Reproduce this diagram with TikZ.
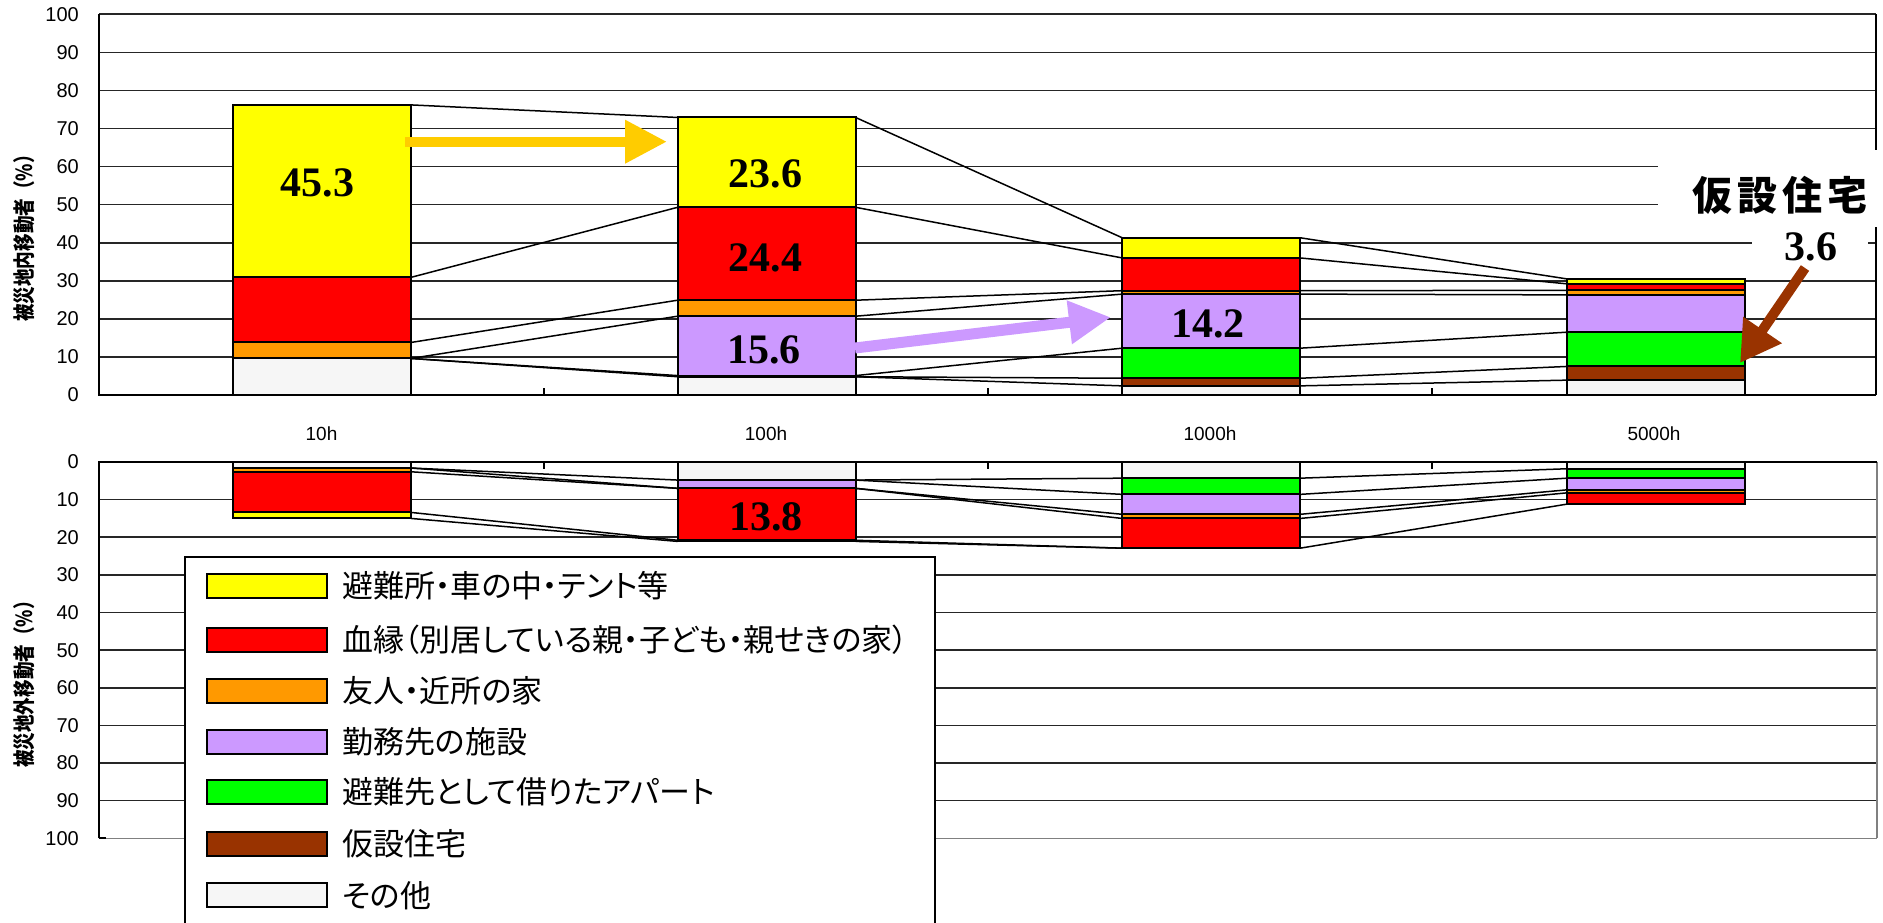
\documentclass[tikz,border=0pt]{standalone}
\usepackage{fontspec}
\setmainfont{Liberation Sans}
\newfontfamily\cjk[RawFeature=+palt]{Noto Sans CJK JP}
\newfontfamily\cjkt{Noto Sans CJK JP}
\newfontfamily\numf{Liberation Serif}
\usetikzlibrary{arrows.meta}
\definecolor{cYel}{HTML}{FFFF00}
\definecolor{cRed}{HTML}{FF0000}
\definecolor{cOra}{HTML}{FF9900}
\definecolor{cPur}{HTML}{CC99FF}
\definecolor{cGre}{HTML}{00FF00}
\definecolor{cBro}{HTML}{993300}
\definecolor{cOth}{HTML}{F6F6F6}
\definecolor{arrY}{HTML}{FFCC00}
\newcommand\tyv[1]{395-3.807*(#1)}
\newcommand\byv[1]{462+3.763*(#1)}
% top stacked bar: #1 xL, #2..#8 cumulative tops (other..yellow)
\newcommand\topbar[8]{%
  \filldraw[seg,fill=cOth] (#1,{\tyv{0}}) rectangle ({#1+178},{\tyv{#2}});
  \filldraw[seg,fill=cBro] (#1,{\tyv{#2}}) rectangle ({#1+178},{\tyv{#3}});
  \filldraw[seg,fill=cGre] (#1,{\tyv{#3}}) rectangle ({#1+178},{\tyv{#4}});
  \filldraw[seg,fill=cPur] (#1,{\tyv{#4}}) rectangle ({#1+178},{\tyv{#5}});
  \filldraw[seg,fill=cOra] (#1,{\tyv{#5}}) rectangle ({#1+178},{\tyv{#6}});
  \filldraw[seg,fill=cRed] (#1,{\tyv{#6}}) rectangle ({#1+178},{\tyv{#7}});
  \filldraw[seg,fill=cYel] (#1,{\tyv{#7}}) rectangle ({#1+178},{\tyv{#8}});}
\newcommand\botbar[8]{%
  \filldraw[seg,fill=cOth] (#1,{\byv{0}}) rectangle ({#1+178},{\byv{#2}});
  \filldraw[seg,fill=cBro] (#1,{\byv{#2}}) rectangle ({#1+178},{\byv{#3}});
  \filldraw[seg,fill=cGre] (#1,{\byv{#3}}) rectangle ({#1+178},{\byv{#4}});
  \filldraw[seg,fill=cPur] (#1,{\byv{#4}}) rectangle ({#1+178},{\byv{#5}});
  \filldraw[seg,fill=cOra] (#1,{\byv{#5}}) rectangle ({#1+178},{\byv{#6}});
  \filldraw[seg,fill=cRed] (#1,{\byv{#6}}) rectangle ({#1+178},{\byv{#7}});
  \filldraw[seg,fill=cYel] (#1,{\byv{#7}}) rectangle ({#1+178},{\byv{#8}});}
\begin{document}
\begin{tikzpicture}[x=1pt,y=-1pt,
  grid/.style={line width=1.6pt, black!85},
  frame/.style={line width=2pt, black},
  seg/.style={draw=black, line width=2pt},
  sline/.style={line width=1.5pt, black},
  axlab/.style={font=\fontsize{20}{22}\selectfont, inner sep=0pt, anchor=east},
  catlab/.style={font=\fontsize{19}{21}\selectfont, inner sep=0pt},
  numlab/.style={font=\numf\bfseries\fontsize{42}{44}\selectfont, inner sep=0pt},
  legtext/.style={font=\cjk\fontsize{31}{34}\selectfont, inner sep=0pt, anchor=west},
  swatch/.style={draw=black, line width=2pt},
  ytitle/.style={font=\cjkt\bfseries\fontsize{22}{24}\selectfont, inner sep=0pt, rotate=90},
  bigarrow/.style={line width=#1, -{Triangle[length=42pt,width=41pt]}},
]
\clip (0,0) rectangle (1883,923);
\fill[white] (0,0) rectangle (1883,923);

% ---------- top chart ----------
\foreach \v in {10,20,...,100}
  \draw[grid] (99,{\tyv{\v}}) -- (1876,{\tyv{\v}});
\draw[frame] (1876,{\tyv{100}}) -- (1876,{\tyv{0}});
\draw[frame] (99,{\tyv{100}}) -- (99,{\tyv{0}}) -- (1876,{\tyv{0}});
\foreach \x in {543.5,987.8,1432}
  \draw[frame] (\x,{\tyv{0}}) -- (\x,{\tyv{0}-7});
\foreach \v in {0,10,...,100}
  \node[axlab] (ta\v) at (79,{\tyv{\v}}) {\v};
\node[ytitle] (ttitle) at (24,234) {\scalebox{0.8}[1]{被災地内移動者（\%）}};

% series lines (top)
\foreach \a/\b in {9.6/4.8,9.6/5.1,9.6/20.7,13.8/24.9,30.9/49.3,76.2/72.9}
  \draw[sline] (411,{\tyv{\a}}) -- (677.6,{\tyv{\b}});
\foreach \a/\b in {4.8/2.4,4.8/4.4,5.1/12.3,20.7/26.5,24.9/27.4,49.3/36.0,72.9/41.3}
  \draw[sline] (855.6,{\tyv{\a}}) -- (1122.2,{\tyv{\b}});
\foreach \a/\b in {2.4/3.9,4.4/7.5,12.3/16.5,26.5/26.3,27.4/27.5,36.0/29.2,41.3/30.5}
  \draw[sline] (1300.2,{\tyv{\a}}) -- (1566.8,{\tyv{\b}});

\topbar{233}{9.6}{9.6}{9.6}{9.6}{13.8}{30.9}{76.2}
\topbar{677.6}{4.8}{4.8}{5.1}{20.7}{24.9}{49.3}{72.9}
\topbar{1122.2}{2.4}{4.4}{12.3}{26.5}{27.4}{36.0}{41.3}
\topbar{1566.8}{3.9}{7.5}{16.5}{26.3}{27.5}{29.2}{30.5}

% category labels
\node[catlab] (c10) at (321.5,434) {10h};
\node[catlab] (c100) at (766,434) {100h};
\node[catlab] (c1000) at (1210,434) {1000h};
\node[catlab] (c5000) at (1654,434) {5000h};

% ---------- bottom chart ----------
\foreach \v in {10,20,...,90}
  \draw[grid] (99,{\byv{\v}}) -- (1877,{\byv{\v}});
\draw[line width=1.6pt, black!50] (99,{\byv{100}}) -- (1877,{\byv{100}});
\draw[line width=1.6pt, black!50] (1877,{\byv{0}}) -- (1877,{\byv{100}});
\draw[frame] (99,{\byv{100}}) -- (99,{\byv{0}}) -- (1877,{\byv{0}});
\draw[frame] (99,{\byv{100}}) -- (106,{\byv{100}});
\foreach \x in {543.5,987.8,1432}
  \draw[frame] (\x,{\byv{0}}) -- (\x,{\byv{0}+7});
\foreach \v in {0,10,...,100}
  \node[axlab] (ba\v) at (79,{\byv{\v}}) {\v};
\node[ytitle] (btitle) at (24,680) {\scalebox{0.8}[1]{被災地外移動者（\%）}};

\foreach \a/\b in {1.6/4.8,1.6/7.0,2.6/7.0,13.4/20.8,15.0/21.1}
  \draw[sline] (411,{\byv{\a}}) -- (677.6,{\byv{\b}});
\foreach \a/\b in {4.8/4.3,4.8/8.6,7.0/13.9,7.0/15.0,20.8/22.9,21.1/22.9}
  \draw[sline] (855.6,{\byv{\a}}) -- (1122.2,{\byv{\b}});
\foreach \a/\b in {4.3/1.8,8.6/4.3,13.9/7.4,15.0/8.2,22.9/11.2}
  \draw[sline] (1300.2,{\byv{\a}}) -- (1566.8,{\byv{\b}});

\botbar{233}{1.6}{1.6}{1.6}{1.6}{2.6}{13.4}{15.0}
\botbar{677.6}{4.8}{4.8}{4.8}{7.0}{7.0}{20.8}{21.1}
\botbar{1122.2}{4.3}{4.3}{8.6}{13.9}{15.0}{22.9}{22.9}
\botbar{1566.8}{1.8}{1.8}{4.3}{7.4}{8.2}{11.2}{11.2}

% ---------- value labels ----------
\node[numlab] (v453) at (317.5,182.5) {45.3};
\node[numlab] (v236) at (765.5,173.7) {23.6};
\node[numlab] (v244) at (765.5,258) {24.4};
\node[numlab] (v156) at (764,349.7) {15.6};
\node[numlab] (v142) at (1208,323.7) {14.2};
\node[numlab] (v138) at (766,517) {13.8};

% ---------- annotation ----------
\fill[white] (1658,150) rectangle (1883,227);
\fill[white] (1752,229) rectangle (1868,266);
\node[font=\cjkt\bfseries\fontsize{40}{44}\selectfont, inner sep=0pt] (kasetsu) at (1779.5,195)
  {仮\kern5pt 設\kern5pt 住\kern5pt 宅};
\node[numlab] (v36) at (1811,247) {3.6};

% ---------- arrows ----------
\draw[bigarrow=10pt, arrY] (405,141.7) -- (667,141.7);
\draw[bigarrow=11pt, cPur] (855,348) -- (1111,317.3);
\draw[line width=10pt, cBro, -{Triangle[length=40pt,width=44pt]}] (1805,268) -- (1740,363);

% ---------- legend ----------
\draw[line width=2pt, fill=white] (185,557) rectangle (935,960);
\foreach \c/\yc/\t [count=\i] in {
  cYel/585.5/避難所・車の中・テント等,
  cRed/640/血縁（別居している親・子ども・親せきの家）,
  cOra/690.5/友人・近所の家,
  cPur/742/勤務先の施設,
  cGre/792/避難先として借りたアパート,
  cBro/843.7/仮設住宅,
  cOth/895.3/その他}
{
  \filldraw[swatch, fill=\c] (207,{\yc-12}) rectangle (327,{\yc+12});
  \node[legtext] (leg\i) at (342,\yc) {\t};
}
\end{tikzpicture}
\end{document}
